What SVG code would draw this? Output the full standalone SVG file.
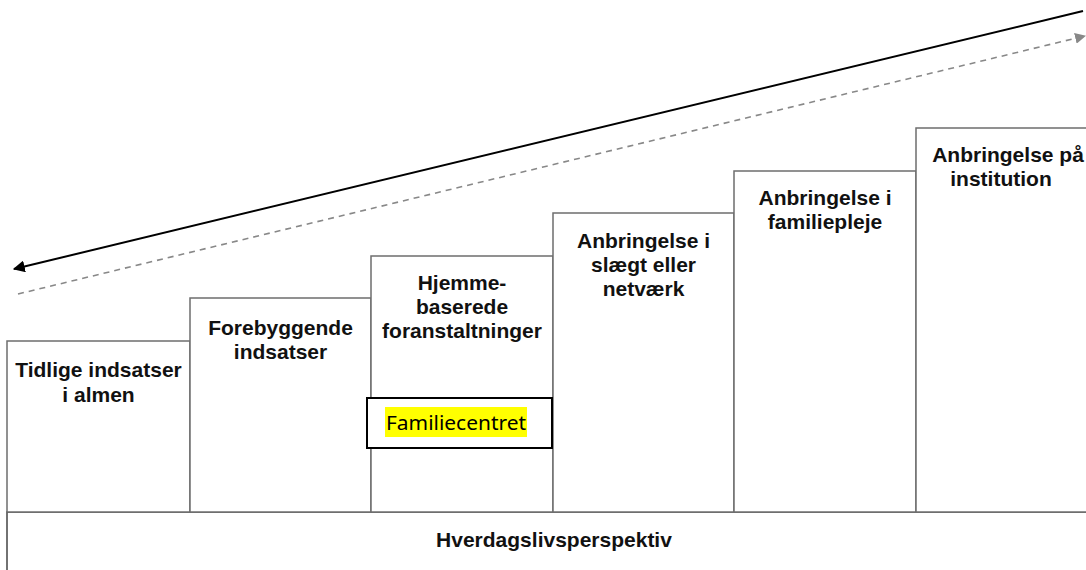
<svg xmlns="http://www.w3.org/2000/svg" width="1086" height="570" viewBox="0 0 1086 570">
<defs>
<style>
.box{fill:#fff;stroke:#6e6e6e;stroke-width:1.5}
.lbl{font-family:"Liberation Sans",Arial,sans-serif;font-weight:bold;font-size:21px;fill:#111;text-anchor:middle}
.fc{font-family:"Noto Sans","Open Sans",sans-serif;font-size:20px;fill:#000}
</style>
<marker id="ahBlack" viewBox="0 0 10 10" refX="9" refY="5" markerWidth="12" markerHeight="12" markerUnits="userSpaceOnUse" orient="auto"><path d="M0,0 L10,5 L0,10 z" fill="#000"/></marker>
<marker id="ahGray" viewBox="0 0 10 10" refX="9" refY="5" markerWidth="11" markerHeight="11" markerUnits="userSpaceOnUse" orient="auto"><path d="M0,0 L10,5 L0,10 z" fill="#888"/></marker>
</defs>
<rect width="1086" height="570" fill="#fff"/>
<g id="base">
<rect class="box" x="7" y="512" width="1090" height="70" style="stroke:#444"/>
<text class="lbl" x="554" y="547">Hverdagslivsperspektiv</text>
</g>
<g id="step1">
<rect class="box" x="7" y="341" width="183" height="171"/>
<text class="lbl" x="98.5" y="377">Tidlige indsatser</text>
<text class="lbl" x="98.5" y="402">i almen</text>
</g>
<g id="step2">
<rect class="box" x="190" y="298" width="181" height="214"/>
<text class="lbl" x="280.5" y="335">Forebyggende</text>
<text class="lbl" x="280.5" y="359">indsatser</text>
</g>
<g id="step3">
<rect class="box" x="371" y="256" width="182" height="256"/>
<text class="lbl" x="462" y="290">Hjemme-</text>
<text class="lbl" x="462" y="314">baserede</text>
<text class="lbl" x="462" y="338">foranstaltninger</text>
</g>
<g id="step4">
<rect class="box" x="553" y="213" width="181" height="299"/>
<text class="lbl" x="643.5" y="248">Anbringelse i</text>
<text class="lbl" x="643.5" y="272">slægt eller</text>
<text class="lbl" x="643.5" y="296">netværk</text>
</g>
<g id="step5">
<rect class="box" x="734" y="171" width="182" height="341"/>
<text class="lbl" x="825" y="205">Anbringelse i</text>
<text class="lbl" x="825" y="229">familiepleje</text>
</g>
<g id="step6">
<rect class="box" x="916" y="128" width="180" height="384"/>
<text class="lbl" x="1008" y="162">Anbringelse på</text>
<text class="lbl" x="1001" y="186">institution</text>
</g>
<g id="familiecentret">
<rect x="367" y="398" width="185" height="50" fill="#fff" stroke="#000" stroke-width="2"/>
<rect x="385" y="407" width="142" height="30" fill="#ffff00"/>
<text class="fc" x="386" y="430" textLength="140" lengthAdjust="spacingAndGlyphs">Familiecentret</text>
</g>
<g id="connectors">
<line x1="1083" y1="11" x2="14" y2="269" stroke="#000" stroke-width="2" marker-end="url(#ahBlack)"/>
<line x1="18" y1="294" x2="1085" y2="36" stroke="#888" stroke-width="1.6" stroke-dasharray="6,5" marker-end="url(#ahGray)"/>
</g>
</svg>
